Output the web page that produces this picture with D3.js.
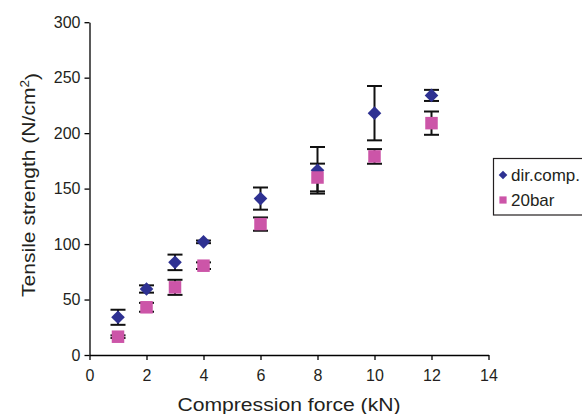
<!DOCTYPE html>
<html>
<head>
<meta charset="utf-8">
<script src="https://cdn.jsdelivr.net/npm/d3@7"></script>
<style>
  html, body { margin: 0; padding: 0; background: #fff; }
  svg { display: block; font-family: "Liberation Sans", Arial, sans-serif; }
</style>
</head>
<body>
<svg id="chart" width="582" height="414"></svg>
<script>
// Compression force (kN)
const force = [1, 2, 3, 4, 6, 8, 10, 12];
// Tensile strength, direct compression
const dirComp = [34, 59.5, 83.5, 102, 141, 166.5, 218, 234];
const dirCompErr = [6.8, 3.3, 7, 1.2, 10, 21, 24.5, 5];
// Tensile strength, 20 bar
const bar20 = [16.5, 43, 61, 80.5, 118, 160, 179, 209];
const bar20Err = [1.2, 4, 6.8, 3, 6, 12.5, 6.6, 10.5];

const xTicks = [0, 2, 4, 6, 8, 10, 12, 14];
const yTicks = [0, 50, 100, 150, 200, 250, 300];
const seriesNames = ["dir.comp.", "20bar"];

const textColor = "#231f20";
const navy = "#2e3192";
const pink = "#cc55a8";

const svg = d3.select("#chart");

const x = d3.scaleLinear().domain([0, 14]).range([89.5, 488.5]);
const y = d3.scaleLinear().domain([0, 300]).range([355, 22.2]);

// axes
const xAxis = svg.append("g")
  .attr("transform", `translate(0,${y(0)})`)
  .call(d3.axisBottom(x).tickValues(xTicks).tickSize(5).tickPadding(10).tickSizeOuter(0));
const yAxis = svg.append("g")
  .attr("transform", `translate(${x(0)},0)`)
  .call(d3.axisLeft(y).tickValues(yTicks).tickSize(5).tickPadding(4).tickSizeOuter(0));

[xAxis, yAxis].forEach(g => {
  g.select(".domain").attr("stroke", "#000").attr("stroke-width", 1.3);
  g.selectAll(".tick line").attr("stroke", "#000").attr("stroke-width", 1.3);
  g.selectAll(".tick text")
    .attr("fill", textColor)
    .style("font-size", "16px")
    .style("font-family", "'Liberation Sans', Arial, sans-serif");
});

// axis titles
svg.append("text")
  .attr("x", (x(0) + x(14)) / 2)
  .attr("y", 410.5)
  .attr("text-anchor", "middle")
  .attr("fill", textColor)
  .attr("textLength", 223)
  .attr("lengthAdjust", "spacingAndGlyphs")
  .style("font-size", "18.8px")
  .text("Compression force (kN)");

const yTitle = svg.append("text")
  .attr("transform", `translate(34.5,185) rotate(-90)`)
  .attr("text-anchor", "middle")
  .attr("fill", textColor)
  .attr("textLength", 224)
  .attr("lengthAdjust", "spacingAndGlyphs")
  .style("font-size", "18.8px");
yTitle.append("tspan").text("Tensile strength (N/cm");
yTitle.append("tspan").attr("dy", "-0.45em").style("font-size", "12px").text("2");
yTitle.append("tspan").attr("dy", "0.45em").text(")");

// error bars for both series
const capHalf = 7.5;
function errorBars(vals, errs) {
  const g = svg.append("g").attr("stroke", "#111").attr("stroke-width", 2).attr("fill", "none");
  force.forEach((f, i) => {
    const cx = x(f), top = y(vals[i] + errs[i]), bot = y(vals[i] - errs[i]);
    g.append("line").attr("x1", cx).attr("x2", cx).attr("y1", top).attr("y2", bot);
    g.append("line").attr("x1", cx - capHalf).attr("x2", cx + capHalf).attr("y1", top).attr("y2", top);
    g.append("line").attr("x1", cx - capHalf).attr("x2", cx + capHalf).attr("y1", bot).attr("y2", bot);
  });
}
errorBars(dirComp, dirCompErr);
errorBars(bar20, bar20Err);

// markers
const diamond = (cx, cy, r) => `M${cx},${cy - r}L${cx + r},${cy}L${cx},${cy + r}L${cx - r},${cy}Z`;
svg.append("g").selectAll("path")
  .data(force.map((f, i) => [f, dirComp[i]]))
  .join("path")
  .attr("d", d => diamond(x(d[0]), y(d[1]), 6.8))
  .attr("fill", navy);

const sq = 12.5;
svg.append("g").selectAll("rect")
  .data(force.map((f, i) => [f, bar20[i]]))
  .join("rect")
  .attr("x", d => x(d[0]) - sq / 2)
  .attr("y", d => y(d[1]) - sq / 2)
  .attr("width", sq)
  .attr("height", sq)
  .attr("fill", pink);

// legend
const lg = svg.append("g");
lg.append("rect")
  .attr("x", 493.5).attr("y", 158.5)
  .attr("width", 110).attr("height", 56.5)
  .attr("fill", "#fff").attr("stroke", "#231f20").attr("stroke-width", 1.2);
lg.append("path").attr("d", diamond(503, 175, 4.3)).attr("fill", navy);
lg.append("rect").attr("x", 503 - 3.6).attr("y", 200 - 3.6).attr("width", 7.2).attr("height", 7.2).attr("fill", pink);
lg.selectAll("text.lbl")
  .data(seriesNames)
  .join("text")
  .attr("class", "lbl")
  .attr("x", 511)
  .attr("y", (d, i) => 180.5 + i * 25)
  .attr("fill", textColor)
  .style("font-size", "17px")
  .text(d => d);
</script>
</body>
</html>
